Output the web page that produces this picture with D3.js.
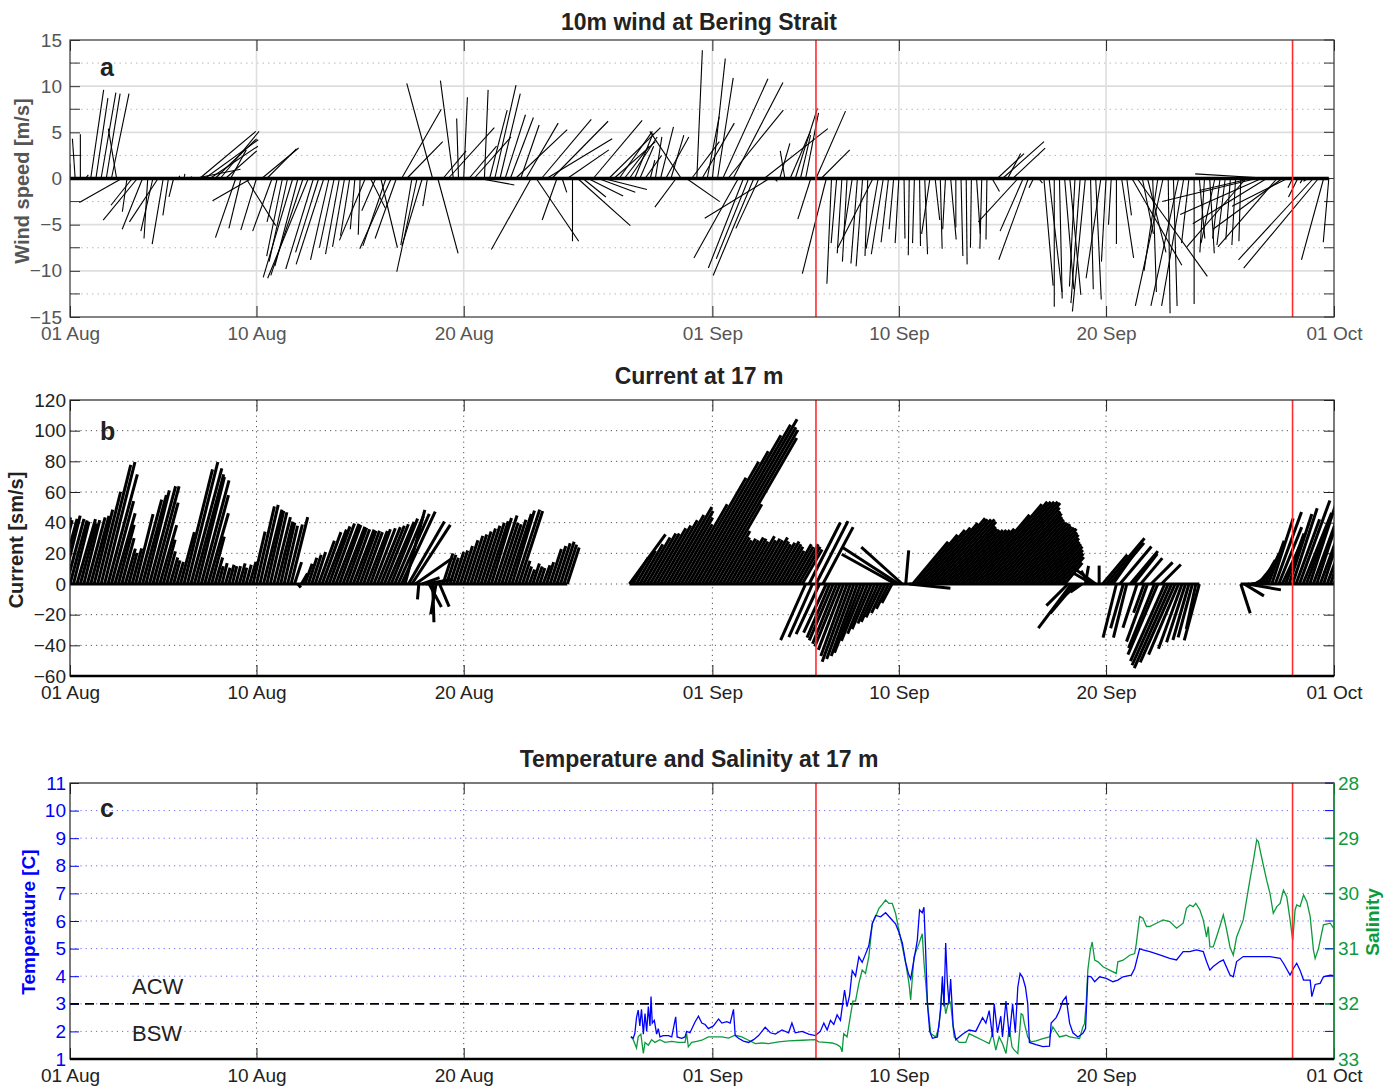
<!DOCTYPE html>
<html><head><meta charset="utf-8">
<script src="https://cdn.jsdelivr.net/npm/d3@7"></script>
<style>
body{margin:0;background:#fff;}
text{font-family:"Liberation Sans",Arial,Helvetica,sans-serif;}
</style>
</head><body>
<svg id="chart" width="1389" height="1087"></svg>
<script>
// ---------------- DATA ----------------
// tick labels / dates
const dateTicks = ["2012-08-01","2012-08-10","2012-08-20","2012-09-01","2012-09-10","2012-09-20","2012-10-01"];
const windTicks = [15,10,5,0,-5,-10,-15];
const windMinor = [12.5,7.5,2.5,-2.5,-7.5,-12.5];
const currentTicks = [120,100,80,60,40,20,0,-20,-40,-60];
const tempTicks = [1,2,3,4,5,6,7,8,9,10,11];
const salTicks = [28,29,30,31,32,33];
// event markers (days after 01 Aug)
const eventDays = [36.0, 59.0];
// water-mass boundary
const boundaryTemp = 3;

// 10 m wind, 6-hourly from 01 Aug 00:00 (m/s)
const windStartDay = 0, windStepDays = 0.25;
const windU = [
0,-0.3,0,0.3, 1.4,1.3,1.6,1.5, 1.9,-0.9,-4.6,-0.5, -2.3,-3.7,-2.2,-0.4, -1.3,-3.1,-1.2,-0.6,
-0.5,0.1,0.1,0.3, 5.0,6.1,5.8,5.2, 4.5,4.2,3.4,1.7, -2.2,-1.3,3.2,-4.2, -1.7,4.0,3.2,-2.1,
-1.1,-1.7,-2.0,-3.2, -2.5,-3.5,-4.4,-3.0, -2.5,-3.0,-2.0,-1.6, -1.5,-1.3,-1.0,-0.5, -0.2,-2.8,1.6,-1.5,
1.8,-2.5,-3.4,-2.3, 4.3,3.9,-1.2,-2.2, -2.2,-0.5,-2.8,2.2, 2.5,5.0,-1.4,-0.2, 0.4,3.0,4.0,3.8,
0.4,1.9,2.3,2.2, 2.2,2.5,5.6,2.0, 3.5,-4.3,4.6,5.4, 7.1,6.1,-1.6,0.5, 4.5,0.0,5.7,2.5,
3.8,5.3,4.0,4.7, 5.6,4.5,3.6,2.7, 3.0,2.0,1.5,1.8, 0.5,0.7,1.4,2.5, 1.4,-2.3,-3.4,3.6,
3.0,0.6,3.5,1.3, 1.4,1.7,4.9,6.0, 5.4,-4.8,-3.8,-3.5, -4.4,-2.5,6.9,-7.0, 0.3,1.1,-0.5,2.2,
2.4,1.1,1.4,-1.4, 3.2,3.1,-2.6,-0.5, -0.6,-0.5,-0.5,-1.0, -0.7,-0.7,-0.3,-3.8, -1.3,-1.3,-0.8,-0.5,
-0.4,0.1,-0.1,-0.2, 0.1,0.3,-0.9,0.5, 0.2,-0.3,0.6,0.0, 0.2,0.1,-0.1,0.4, -0.2,-0.1,0.8,2.9,
4.5,1.4,3.5,-4.3, -2.5,-3.2,-0.5,0.4, 1.0,1.4,0.0,0.3, 1.0,1.2,-0.6,-1.0, -1.4,0.3,0.6,-1.6,
-0.5,-0.3,0.0,1.3, 0.5,5.4,7.6,1.2, 2.0,0.4,-1.5,-3.0, 0.2,0.4,-3.0,-2.4, -0.8,0.0,0.6,-0.5,
0.5,-1.5,-0.8,-0.9, -0.5,-0.4,-0.2,-6.4, -5.6,-10.2,-8.8,-8.0, -8.3,-6.4,-7.5,-6.0, -0.5,-1.0,-0.3,-0.5,
-8.1,-8.1,-2.4,-0.6];
const windV = [
1.6,4.3,4.8,0.4, 9.6,8.7,9.3,9.2, 9.2,5.4,-2.6,-3.6, -2.9,-4.5,-5.5,-6.5, -5.7,-4.7,-7.1,-4.0,
-2.0,0.3,0.5,0.2, 1.0,5.1,4.2,3.5, 4.3,5.1,3.0,3.1, -6.4,-5.4,-5.1,-2.4, -5.6,3.3,3.2,-5.7,
-4.7,-8.4,-9.0,-10.7, -9.5,-10.5,-10.8,-9.8, -8.0,-9.3,-8.8,-7.5, -8.2,-7.4,-6.2,-5.5, -6.1,-6.7,-3.2,-3.5,
-7.5,-7.3,-7.6,-6.5, 7.5,4.0,-7.2,-10.1, -7.3,-3.0,10.3,-8.1, 3.0,5.5,10.6,6.5, 8.8,3.5,4.5,-0.7,
9.6,7.4,10.1,9.2, 6.9,6.6,5.3,5.8, 6.0,-7.7,-6.8,6.4, 4.3,6.2,-4.5,-1.5, 3.1,-6.8,-5.1,-2.0,
-1.9,6.3,-1.5,-1.2, 5.5,4.0,5.1,3.5, 4.5,4.9,3.5,2.5, 2.0,4.5,5.6,4.5, 4.7,-3.1,5.1,-2.5,
4.0,13.9,6.0,6.7, 13.0,10.9,10.8,7.4, 10.4,-8.6,-9.7,-8.7, -10.5,-5.4,5.4,-4.3, -0.3,3.8,3.0,5.1,
7.6,4.7,7.1,-4.4, 7.3,3.1,-10.3,-11.4, -7.0,-8.1,-9.0,-6.5, -9.2,-9.5,-8.4,-7.5, -7.6,-8.2,-6.9,-5.5,
-7.0,-6.5,-8.3,-7.0, -7.3,-8.2,-6.0,-4.5, -7.6,-5.5,-6.6,-5.3, -8.4,-9.3,-7.5,-6.0, -7.6,-6.6,-1.4,2.7,
4.0,2.7,3.3,-4.7, -5.7,-8.8,-1.0,-0.5, -11.6,-12.3,-13.9,-13.0, -12.0,-12.6,-11.7,-13.5, -14.4,-12.0,-13.1,-10.8,
-9.0,-5.0,-7.1,-8.6, -4.0,-9.4,-10.6,-6.0, -8.0,-12.3,-10.0,-13.8, -14.6,-13.8,-13.8,-13.8, -7.0,-13.6,-6.5,-8.0,
-8.1,-7.0,-6.5,-7.2, -6.6,-7.2,-6.8,-7.4, -1.3,-2.5,-3.9,-4.9, 0.5,-7.4,-5.5,-3.0, -1.0,-2.0,-0.5,-0.3,
-8.8,-9.7,-8.8,-6.9];

// current at 17 m, 4-hourly from 31 Jul 00:00: speed (cm/s) and direction (deg, toward, clockwise from N)
const curStartDay = -1, curStepDays = 1/6;
const N = null;
const curSpeed = [
44,45,43,44,46,44, 43,42,44,41,43,45, 46,50,62,80,82,74, 56,48,40,31,24,21, 24,47,57,60,63,66,
66,55,40,30,22,18, 16,15,35,77,82,78, 74,72,70,60,48,32, 18,12,14,11,13,12, 12,14,11,13,15,35,
52,53,50,49,48,45, 42,41,39,40,45,15, 3,8,14,18,20,22, 30,36,38,40,42,42, 41,40,39,38,38,37,
37,36,37,38,39,40, 41,42,44,46,48,50, 52,50,47,46,30,10, 12,18,17,25,20,16, 21,20,18,22,23,26,
30,33,34,36,38,40, 42,43,45,47,42,41, 44,48,50,51,50,16, 12,10,14,12,11,13, 15,24,26,28,29,27,
25,N,N,N,N,N, N,N,N,N,N,N, N,N,N,N,N,N,
40,20,25,30,35,38, 38,42,44,48,52,58, 55,50,45,60,80,92, 100,112,120,124,118,116, 110,60,40,35,33,34,
33,35,34,32,36,33, 34,33,35,32,30,31, 32,30,28,25,30,28, 30,28,26,40,45,38, 46,36,42,35,38,40,
42,44,46,50,54,52, 50,48,40,35,32,28, 27,24,21,18,14,40, 44,36,22,27,36,42, 46,48,52,56,55,55,
55,53,49,47,46,46, 46,46,47,59,68,70, 70,70,70,69,65,62, 60,57,55,53,52,51, 49,48,47,44,42,39,
36,34,32,29,26,23, 18,20,36,25,14,9, 12,10,14,19,12,25, 39,35,30,36,32,30, 36,28,25,30,22,20,
40,20,45,50,18,55, 58,60,56,50,45,40, 38,36,30,38,N,N, N,N,N,N,N,N, N,N,N,20,15,22,
12,10,14,18,22,30, 45,50,40,30,35,48, 52,45,58,50,42,60, 55,65,62,70,68,72, 70];
const curDir = [
14,15,14,15,14,15, 15,14,16,15,14,15, 15,14,14,14,14,15, 15,16,15,15,16,15, 15,14,15,15,14,15,
15,15,16,15,15,16, 15,16,15,14,14,15, 15,14,15,15,16,15, 16,15,14,16,15,14, 15,16,14,15,16,13,
13,13,14,13,13,14, 14,13,13,14,14,18, 140,30,20,18,18,18, 20,20,21,20,20,21, 20,21,20,20,21,20,
20,20,21,20,21,22, 22,22,23,22,23,24, 25,15,30,33,55,185, 70,80,152,178,190,157, 18,18,18,18,18,18,
18,18,18,18,18,18, 18,18,17,18,18,18, 18,18,17,18,18,18, 18,20,18,19,18,20, 18,18,18,18,18,18,
18,0,0,0,0,0, 0,0,0,0,0,0, 0,0,0,0,0,0,
36,30,30,30,30,30, 30,30,30,30,30,30, 30,30,30,30,30,30, 30,30,30,30,30,30, 30,30,30,30,30,30,
30,30,30,30,30,30, 30,30,30,30,30,30, 30,30,30,30,30,30, 30,30,30,204,27,204, 27,205,28,205,203,203,
202,202,201,200,200,200, 200,201,202,202,203,203, 204,205,205,206,208,299, 303,312,5,96,40,40, 40,40,40,40,40,40,
40,40,40,40,40,40, 40,40,40,40,40,40, 40,40,40,40,40,40, 40,40,40,40,40,40, 40,40,40,40,40,40,
40,40,40,40,40,40, 40,225,217,220,230,235, 10,330,300,306,0,40, 40,40,35,194,40,196, 194,40,38,198,40,200,
200,45,202,203,45,204, 204,204,204,203,200,198, 196,195,192,195,0,0, 0,0,0,0,0,0, 0,0,0,162,121,100,
83,60,40,30,25,20, 18,20,22,25,20,18, 18,20,20,22,20,18, 20,18,20,18,20,18, 20];

// temperature (C) at 17 m: day after 01 Aug, value
const tempDay = [27.07,27.18,27.26,27.34,27.42,27.5,27.58,27.67,27.75,27.83,27.91,27.99,28.04,28.1,28.2,28.31,28.39,28.47,28.63,28.88,
29.04,29.23,29.3,29.52,29.68,29.76,29.92,30.17,30.33,30.49,30.65,30.81,31.05,31.3,31.46,31.7,31.86,32.02,32.1,32.26,
32.5,32.75,32.99,33.23,33.55,33.8,34.04,34.36,34.68,34.84,35.0,35.33,35.65,35.97,36.21,36.38,36.54,36.7,36.86,37.02,
37.18,37.38,37.5,37.62,37.75,37.91,38.07,38.23,38.39,38.55,38.72,38.88,39.12,39.36,39.6,39.84,40.0,40.17,40.33,40.46,
40.57,40.73,40.89,41.0,41.13,41.21,41.29,41.38,41.49,41.62,41.86,42.02,42.1,42.18,42.26,42.34,42.42,42.5,42.62,42.75,
43.07,43.39,43.71,44.04,44.2,44.36,44.52,44.6,44.76,44.92,45.0,45.17,45.33,45.49,45.62,45.74,45.85,45.98,46.11,46.22,
46.3,46.62,46.95,47.27,47.35,47.59,47.75,47.91,48.07,48.15,48.24,48.4,48.64,48.88,49.01,49.12,49.28,49.45,49.69,50.01,
50.33,50.57,50.82,51.22,51.38,51.62,51.78,52.11,52.59,53.07,53.4,53.72,54.04,54.36,54.69,54.85,55.01,55.17,55.49,55.66,
55.98,56.14,56.3,56.62,57.27,57.91,58.4,58.56,58.88,59.04,59.2,59.36,59.53,59.85,59.93,60.09,60.33,60.49,60.82,61.14];
const tempVal = [1.81,1.75,1.93,2.5,2.77,2.2,2.8,1.9,2.65,2.0,2.9,2.2,3.26,2.3,2.4,1.9,2.1,1.8,1.85,1.85,
1.8,2.53,1.8,1.75,1.8,2.0,1.95,2.35,2.55,2.3,2.25,2.1,2.2,2.45,2.3,2.35,2.3,2.8,1.85,1.75,
1.65,1.6,1.7,1.85,2.15,1.95,1.9,2.05,1.95,2.3,1.95,2.0,1.9,1.85,2.0,2.3,2.05,2.4,2.25,2.6,
2.4,3.5,2.9,3.3,4.2,4.0,4.7,4.5,4.8,5.1,5.9,6.2,6.15,6.3,6.1,5.9,5.6,5.2,4.5,4.1,
3.9,4.6,5.3,6.4,6.3,6.5,5.0,3.0,2.0,1.75,1.8,2.8,4.0,2.9,5.2,3.8,3.0,3.9,2.2,1.7,
1.9,2.05,2.0,2.5,2.3,2.75,1.8,3.0,1.95,2.55,1.8,3.1,1.8,3.0,1.95,3.6,4.1,3.95,3.6,3.0,
1.6,1.52,1.45,1.47,2.3,2.5,2.75,3.1,3.26,2.8,2.3,1.95,1.8,1.93,2.1,4.0,3.98,3.8,3.98,3.92,
3.8,3.86,3.98,4.04,4.28,5.0,4.95,4.89,4.77,4.65,4.59,4.89,4.89,4.95,4.89,4.53,4.22,4.35,4.53,4.59,
4.04,3.98,4.53,4.71,4.71,4.71,4.65,4.47,4.04,4.28,4.47,4.22,3.86,3.86,3.26,3.7,3.74,3.98,4.04,4.0];

// salinity at 17 m: day after 01 Aug, value
const salDay = [27.07,27.18,27.34,27.42,27.55,27.67,27.75,27.91,28.07,28.23,28.47,28.71,29.04,29.36,29.68,29.76,29.84,30.0,30.25,30.49,
30.81,31.13,31.46,31.78,32.1,32.42,32.75,33.07,33.39,33.71,34.2,34.68,35.33,35.97,36.13,36.46,36.78,37.02,37.18,37.26,
37.34,37.5,37.67,37.78,37.91,38.07,38.23,38.39,38.55,38.72,38.88,39.04,39.2,39.36,39.52,39.68,39.84,40.0,40.17,40.33,
40.49,40.57,40.73,40.97,41.13,41.21,41.38,41.54,41.78,41.94,42.1,42.26,42.42,42.5,42.67,42.91,43.23,43.39,43.71,44.04,
44.36,44.52,44.68,44.84,45.0,45.17,45.33,45.46,45.57,45.74,45.9,45.98,46.06,46.22,46.38,46.62,46.95,47.27,47.43,47.75,
48.07,48.24,48.72,48.88,48.96,49.04,49.12,49.24,49.33,49.45,49.61,49.85,50.17,50.49,50.57,50.82,51.14,51.38,51.46,51.62,
51.78,51.95,52.11,52.43,52.75,53.07,53.4,53.72,53.88,54.04,54.2,54.33,54.53,54.69,54.85,54.93,55.01,55.17,55.33,55.49,
55.66,55.82,55.98,56.14,56.3,56.62,56.94,57.11,57.27,57.35,57.43,57.59,57.75,57.91,58.07,58.24,58.4,58.56,58.72,58.88,
59.01,59.12,59.2,59.36,59.53,59.69,59.85,60.01,60.09,60.25,60.49,60.82,60.98,61.14];
const salVal = [32.6,32.65,32.8,32.6,32.55,32.9,32.7,32.75,32.65,32.7,32.65,32.7,32.68,32.7,32.7,32.54,32.78,32.7,32.68,32.66,
32.6,32.6,32.6,32.62,32.57,32.6,32.66,32.72,32.71,32.72,32.69,32.67,32.66,32.65,32.69,32.7,32.71,32.74,32.78,32.87,
32.54,32.6,32.2,31.95,31.95,31.63,31.39,31.45,31.15,30.54,30.42,30.27,30.2,30.12,30.18,30.18,30.36,30.66,30.97,31.27,
31.63,31.93,31.15,30.91,30.73,31.24,31.99,32.54,32.6,32.42,31.63,32.18,31.93,31.99,32.6,32.7,32.7,32.54,32.6,32.66,
32.72,32.54,32.84,32.6,32.72,32.9,32.42,32.78,32.84,32.9,32.18,32.2,32.36,32.6,32.69,32.67,32.63,32.6,32.42,32.6,
32.57,32.6,32.63,32.42,32.36,32.0,31.39,31.03,30.88,31.21,31.24,31.33,31.39,31.45,31.24,31.21,31.12,31.09,30.91,30.42,
30.45,30.6,30.6,30.54,30.48,30.51,30.63,30.54,30.27,30.21,30.24,30.18,30.3,30.48,30.79,30.6,30.97,30.97,30.79,30.6,
30.39,30.66,30.97,31.12,30.79,30.48,29.76,29.4,29.03,29.06,29.21,29.49,29.76,30.0,30.36,30.24,30.18,29.94,30.06,30.48,
30.85,30.3,30.21,30.24,30.03,30.15,30.42,31.03,31.18,31.0,30.57,30.54,30.63,30.73];

// ---------------- CHART ----------------
const svg = d3.select("#chart");
const DAY = 864e5;
const parse = d3.utcParse("%Y-%m-%d");
const tickDates = dateTicks.map(parse);
const T0 = tickDates[0].getTime();
const dayDate = d => new Date(T0 + d * DAY);
const fmt = d3.utcFormat("%d %b");
const x = d3.scaleUtc().domain([tickDates[0], tickDates[tickDates.length - 1]]).range([70, 1334]);
const XL = 70, XR = 1334;
const FONT = 19;
const RED = "#ff2d2d", BLUE = "#0000ff", GREEN = "#0d9a3c";

function clip(id, top, bottom) {
  svg.append("clipPath").attr("id", id).append("rect")
    .attr("x", XL).attr("y", top).attr("width", XR - XL).attr("height", bottom - top);
}
function title(txt, yb) {
  svg.append("text").attr("x", 699).attr("y", yb).attr("text-anchor", "middle")
    .attr("font-size", 23).attr("font-weight", "bold").attr("fill", "#222").text(txt);
}
function letter(txt, yb) {
  svg.append("text").attr("x", 100).attr("y", yb).attr("font-size", 25).attr("font-weight", "bold")
    .attr("fill", "#222").text(txt);
}
function ylabel(txt, cx, cy, color, size) {
  svg.append("text").attr("transform", `translate(${cx},${cy}) rotate(-90)`).attr("text-anchor", "middle")
    .attr("font-size", size).attr("font-weight", "bold").attr("fill", color).text(txt);
}
function dateAxes(top, bottom, pad, color) {
  const gb = svg.append("g").attr("transform", `translate(0,${bottom})`)
    .call(d3.axisBottom(x).tickValues(tickDates).tickFormat(fmt).tickSize(-11).tickPadding(pad));
  gb.select(".domain").remove();
  gb.selectAll("text").attr("font-size", FONT).attr("fill", color).attr("font-family", "Liberation Sans, Arial, sans-serif");
  gb.selectAll("line").attr("stroke", "#222");
  const gt = svg.append("g").attr("transform", `translate(0,${top})`)
    .call(d3.axisTop(x).tickValues(tickDates).tickFormat("").tickSize(-11));
  gt.select(".domain").remove();
  gt.selectAll("line").attr("stroke", "#222");
}
function redLines(top, bottom) {
  svg.append("g").selectAll("line").data(eventDays).join("line")
    .attr("x1", d => x(dayDate(d))).attr("x2", d => x(dayDate(d)))
    .attr("y1", top).attr("y2", bottom).attr("stroke", RED).attr("stroke-width", 1.6);
}

// ===== Panel a: wind =====
{
  const top = 40, bottom = 317;
  const y = d3.scaleLinear().domain([-15, 15]).range([bottom, top]);
  clip("clipA", top, bottom);
  const g = svg.append("g");
  g.selectAll(".gs").data([10, 5, -5, -10]).join("line")
    .attr("x1", XL).attr("x2", XR).attr("y1", d => y(d)).attr("y2", d => y(d))
    .attr("stroke", "#dedede").attr("stroke-width", 1.6);
  g.selectAll(".gm").data(windMinor).join("line")
    .attr("x1", XL).attr("x2", XR).attr("y1", d => y(d)).attr("y2", d => y(d))
    .attr("stroke", "#b8b8b8").attr("stroke-width", 1).attr("stroke-dasharray", "1.5,4");
  g.selectAll(".gv").data(tickDates.slice(1, -1)).join("line")
    .attr("x1", d => x(d)).attr("x2", d => x(d)).attr("y1", top).attr("y2", bottom)
    .attr("stroke", "#dedede").attr("stroke-width", 1.6);
  const yt = windTicks.concat(windMinor);
  const gl = svg.append("g").attr("transform", `translate(${XL},0)`)
    .call(d3.axisLeft(y).tickValues(windTicks).tickFormat(d3.format("d")).tickSize(-10).tickPadding(8));
  gl.select(".domain").remove();
  gl.selectAll("text").attr("font-size", FONT).attr("fill", "#555");
  gl.selectAll("line").attr("stroke", "#333");
  svg.append("g").selectAll("line").data(windMinor).join("line")
    .attr("x1", XL).attr("x2", XL + 10).attr("y1", d => y(d)).attr("y2", d => y(d)).attr("stroke", "#333");
  svg.append("g").selectAll("line").data(yt).join("line")
    .attr("x1", XR).attr("x2", XR - 10).attr("y1", d => y(d)).attr("y2", d => y(d)).attr("stroke", "#333");
  dateAxes(top, bottom, 10, "#555");
  const k = y(0) - y(1);
  const recs = windU.map((u, i) => ({ t: dayDate(windStartDay + i * windStepDays), u: u, v: windV[i] }));
  const sg = svg.append("g").attr("clip-path", "url(#clipA)");
  sg.selectAll("line").data(recs).join("line")
    .attr("x1", d => x(d.t)).attr("y1", y(0))
    .attr("x2", d => x(d.t) + d.u * k).attr("y2", d => y(d.v))
    .attr("stroke", "#000").attr("stroke-width", 1.1);
  sg.append("line").attr("x1", x(recs[0].t)).attr("x2", x(recs[recs.length - 1].t))
    .attr("y1", y(0)).attr("y2", y(0)).attr("stroke", "#000").attr("stroke-width", 3.5);
  redLines(top, bottom);
  svg.append("rect").attr("x", XL).attr("y", top).attr("width", XR - XL).attr("height", bottom - top)
    .attr("fill", "none").attr("stroke", "#333").attr("stroke-width", 1.2);
  title("10m wind at Bering Strait", 30);
  letter("a", 76);
  ylabel("Wind speed [m/s]", 29, 181, "#555", 20);
}

// ===== Panel b: current =====
{
  const top = 400, bottom = 676;
  const y = d3.scaleLinear().domain([-60, 120]).range([bottom, top]);
  clip("clipB", top, bottom);
  const g = svg.append("g");
  g.selectAll(".gh").data(currentTicks.slice(1, -1)).join("line")
    .attr("x1", XL).attr("x2", XR).attr("y1", d => y(d)).attr("y2", d => y(d))
    .attr("stroke", "#555").attr("stroke-width", 1).attr("stroke-dasharray", "1.2,4");
  g.selectAll(".gv").data(tickDates.slice(1, -1)).join("line")
    .attr("x1", d => x(d)).attr("x2", d => x(d)).attr("y1", top).attr("y2", bottom)
    .attr("stroke", "#555").attr("stroke-width", 1).attr("stroke-dasharray", "1.2,4");
  const gl = svg.append("g").attr("transform", `translate(${XL},0)`)
    .call(d3.axisLeft(y).tickValues(currentTicks).tickFormat(d3.format("d")).tickSize(-10).tickPadding(4));
  gl.select(".domain").remove();
  gl.selectAll("text").attr("font-size", FONT).attr("fill", "#222");
  gl.selectAll("line").attr("stroke", "#222");
  const gr = svg.append("g").attr("transform", `translate(${XR},0)`)
    .call(d3.axisRight(y).tickValues(currentTicks).tickFormat("").tickSize(-10));
  gr.select(".domain").remove();
  gr.selectAll("line").attr("stroke", "#222");
  dateAxes(top, bottom, 10, "#222");
  const k = y(0) - y(1);
  const recs = curSpeed.map((s, i) => {
    const a = curDir[i] * Math.PI / 180;
    return { t: dayDate(curStartDay + i * curStepDays), s: s,
             u: s == null ? 0 : s * Math.sin(a), v: s == null ? 0 : s * Math.cos(a) };
  });
  const sg = svg.append("g").attr("clip-path", "url(#clipB)");
  sg.append("path").datum(recs)
    .attr("d", d3.line().defined(d => d.s != null).x(d => x(d.t)).y(() => y(0)))
    .attr("stroke", "#000").attr("stroke-width", 3).attr("fill", "none");
  sg.selectAll("line").data(recs.filter(d => d.s != null)).join("line")
    .attr("x1", d => x(d.t)).attr("y1", y(0))
    .attr("x2", d => x(d.t) + d.u * k).attr("y2", d => y(d.v))
    .attr("stroke", "#000").attr("stroke-width", 3.0).attr("stroke-linecap", "butt");
  redLines(top, bottom);
  svg.append("rect").attr("x", XL).attr("y", top).attr("width", XR - XL).attr("height", bottom - top)
    .attr("fill", "none").attr("stroke", "#222").attr("stroke-width", 1.2);
  svg.append("line").attr("x1", XL).attr("x2", XR).attr("y1", bottom).attr("y2", bottom)
    .attr("stroke", "#000").attr("stroke-width", 2.5);
  title("Current at 17 m", 384);
  letter("b", 440);
  ylabel("Current [sm/s]", 23, 540, "#222", 20);
}

// ===== Panel c: temperature & salinity =====
{
  const top = 783, bottom = 1059;
  const yT = d3.scaleLinear().domain([1, 11]).range([bottom, top]);
  const yS = d3.scaleLinear().domain([28, 33]).range([top, bottom]);
  clip("clipC", top, bottom);
  const g = svg.append("g");
  g.selectAll(".gh").data(tempTicks.slice(1, -1)).join("line")
    .attr("x1", XL).attr("x2", XR).attr("y1", d => yT(d)).attr("y2", d => yT(d))
    .attr("stroke", "#6b6bff").attr("stroke-width", 1).attr("stroke-dasharray", "1.2,4");
  g.selectAll(".gv").data(tickDates.slice(1, -1)).join("line")
    .attr("x1", d => x(d)).attr("x2", d => x(d)).attr("y1", top).attr("y2", bottom)
    .attr("stroke", "#555").attr("stroke-width", 1).attr("stroke-dasharray", "1.2,4");
  const gl = svg.append("g").attr("transform", `translate(${XL},0)`)
    .call(d3.axisLeft(yT).tickValues(tempTicks).tickFormat(d3.format("d")).tickSize(-9).tickPadding(4));
  gl.select(".domain").remove();
  gl.selectAll("text").attr("font-size", FONT).attr("fill", BLUE);
  gl.selectAll("line").attr("stroke", BLUE);
  svg.append("g").selectAll("line").data(tempTicks).join("line")
    .attr("x1", XR).attr("x2", XR - 9).attr("y1", d => yT(d)).attr("y2", d => yT(d)).attr("stroke", BLUE);
  const gr = svg.append("g").attr("transform", `translate(${XR},0)`)
    .call(d3.axisRight(yS).tickValues(salTicks).tickFormat(d3.format("d")).tickSize(-9).tickPadding(4));
  gr.select(".domain").remove();
  gr.selectAll("text").attr("font-size", FONT).attr("fill", GREEN);
  gr.selectAll("line").attr("stroke", GREEN);
  dateAxes(top, bottom, 10, "#222");
  const sg = svg.append("g").attr("clip-path", "url(#clipC)");
  sg.append("line").attr("x1", XL).attr("x2", XR).attr("y1", yT(boundaryTemp)).attr("y2", yT(boundaryTemp))
    .attr("stroke", "#000").attr("stroke-width", 1.8).attr("stroke-dasharray", "9,6");
  sg.append("path").datum(salDay.map((d, i) => [d, salVal[i]]))
    .attr("d", d3.line().x(d => x(dayDate(d[0]))).y(d => yS(d[1])))
    .attr("fill", "none").attr("stroke", GREEN).attr("stroke-width", 1.3);
  sg.append("path").datum(tempDay.map((d, i) => [d, tempVal[i]]))
    .attr("d", d3.line().x(d => x(dayDate(d[0]))).y(d => yT(d[1])))
    .attr("fill", "none").attr("stroke", BLUE).attr("stroke-width", 1.3);
  redLines(top, bottom);
  svg.append("rect").attr("x", XL).attr("y", top).attr("width", XR - XL).attr("height", bottom - top)
    .attr("fill", "none").attr("stroke", "#222").attr("stroke-width", 1.2);
  svg.append("line").attr("x1", XR).attr("x2", XR).attr("y1", top).attr("y2", bottom)
    .attr("stroke", GREEN).attr("stroke-width", 1.4);
  svg.append("line").attr("x1", XL).attr("x2", XR).attr("y1", bottom).attr("y2", bottom)
    .attr("stroke", "#000").attr("stroke-width", 2.5);
  svg.append("text").attr("x", 132).attr("y", 994).attr("font-size", 22).attr("fill", "#222").text("ACW");
  svg.append("text").attr("x", 132).attr("y", 1041).attr("font-size", 22).attr("fill", "#222").text("BSW");
  title("Temperature and Salinity at 17 m", 767);
  letter("c", 817);
  ylabel("Temperature [C]", 35, 922, BLUE, 19);
  ylabel("Salinity", 1379, 922, GREEN, 19);
}
</script>
</body></html>
